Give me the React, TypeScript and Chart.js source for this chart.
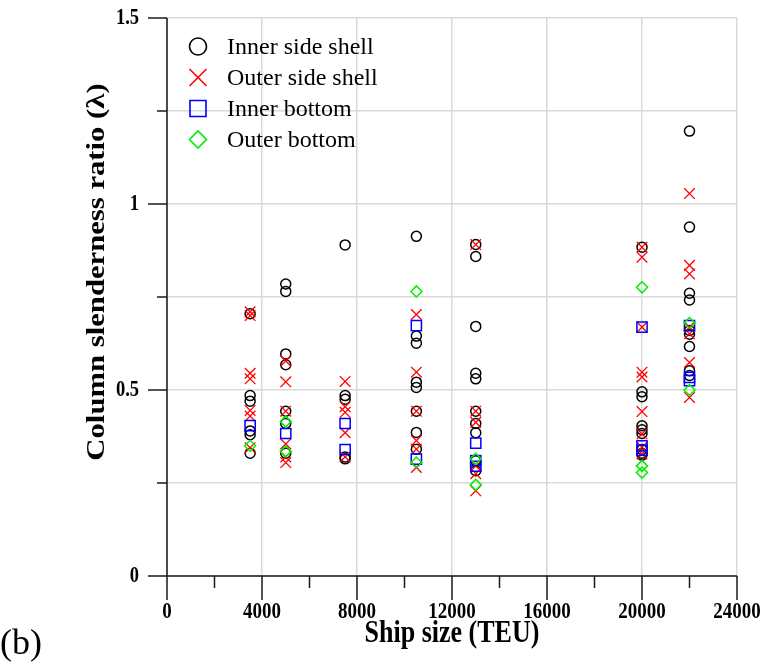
import React, { useEffect, useRef } from 'react';
import { Chart, registerables } from 'chart.js';

Chart.register(...registerables);

const SERIF = '"Liberation Serif", "Times New Roman", serif';

// [ship size (TEU), column slenderness ratio λ]
type Pt = [number, number];

const seriesNames = ['Inner side shell', 'Outer side shell', 'Inner bottom', 'Outer bottom'];

const xTickLabels = ['0', '4000', '8000', '12000', '16000', '20000', '24000'];
const yTickLabels = ['0', '0.5', '1', '1.5'];

const innerSideShell: Pt[] = [
  [3500, 0.705], [3500, 0.485], [3500, 0.47], [3500, 0.39], [3500, 0.38], [3500, 0.33],
  [5000, 0.785], [5000, 0.765], [5000, 0.597], [5000, 0.568], [5000, 0.443], [5000, 0.41], [5000, 0.33],
  [7500, 0.89], [7500, 0.485], [7500, 0.475], [7500, 0.32], [7500, 0.315],
  [10500, 0.913], [10500, 0.645], [10500, 0.626], [10500, 0.521], [10500, 0.507], [10500, 0.443], [10500, 0.386], [10500, 0.341],
  [13000, 0.891], [13000, 0.859], [13000, 0.671], [13000, 0.545], [13000, 0.53], [13000, 0.443], [13000, 0.41], [13000, 0.385], [13000, 0.31], [13000, 0.283],
  [20000, 0.884], [20000, 0.495], [20000, 0.482], [20000, 0.404], [20000, 0.393], [20000, 0.383], [20000, 0.34], [20000, 0.33], [20000, 0.325],
  [22000, 1.196], [22000, 0.938], [22000, 0.76], [22000, 0.742], [22000, 0.66], [22000, 0.65], [22000, 0.617], [22000, 0.552], [22000, 0.539],
];

const outerSideShell: Pt[] = [
  [3500, 0.71], [3500, 0.7], [3500, 0.545], [3500, 0.53], [3500, 0.445], [3500, 0.43], [3500, 0.345],
  [5000, 0.578], [5000, 0.522], [5000, 0.443], [5000, 0.355], [5000, 0.32], [5000, 0.305],
  [7500, 0.523], [7500, 0.455], [7500, 0.44], [7500, 0.385], [7500, 0.32],
  [10500, 0.703], [10500, 0.548], [10500, 0.443], [10500, 0.364], [10500, 0.341], [10500, 0.292],
  [13000, 0.891], [13000, 0.443], [13000, 0.413], [13000, 0.296], [13000, 0.275], [13000, 0.229],
  [20000, 0.884], [20000, 0.857], [20000, 0.669], [20000, 0.548], [20000, 0.535], [20000, 0.442], [20000, 0.382], [20000, 0.346], [20000, 0.328],
  [22000, 1.028], [22000, 0.835], [22000, 0.812], [22000, 0.669], [22000, 0.651], [22000, 0.574], [22000, 0.48],
];

const innerBottom: Pt[] = [
  [3500, 0.404],
  [5000, 0.383],
  [7500, 0.41], [7500, 0.34],
  [10500, 0.673], [10500, 0.314],
  [13000, 0.357], [13000, 0.31], [13000, 0.295],
  [20000, 0.669], [20000, 0.35], [20000, 0.338],
  [22000, 0.673], [22000, 0.534], [22000, 0.525],
];

const outerBottom: Pt[] = [
  [3500, 0.35],
  [5000, 0.415], [5000, 0.335],
  [10500, 0.765], [10500, 0.305],
  [13000, 0.315], [13000, 0.245],
  [20000, 0.776], [20000, 0.296], [20000, 0.278],
  [22000, 0.68], [22000, 0.5],
];

const toXY = (pts: Pt[]) => pts.map(([x, y]) => ({ x, y }));

const seriesStyles = [
  { color: '#000000', pointStyle: 'circle', radius: 5, width: 1.5, legendSize: 8.5, order: 4 },
  { color: '#ff0000', pointStyle: 'crossRot', radius: 7.5, width: 1.3, legendSize: 8.5, order: 3 },
  { color: '#0000ff', pointStyle: 'rect', radius: 7.2, width: 1.5, legendSize: 8, order: 2 },
  { color: '#00ee00', pointStyle: 'rectRot', radius: 5.5, width: 1.5, legendSize: 8.5, order: 1 },
];

// the axis lettering is set tall and narrow
const TEXT_STRETCH = 1.25;
const TITLE_STRETCH = 1.18;

function drawLegendMarker(ctx: CanvasRenderingContext2D, style: string, cx: number, cy: number, s: number) {
  ctx.beginPath();
  if (style === 'circle') {
    ctx.arc(cx, cy, s, 0, Math.PI * 2);
  } else if (style === 'crossRot') {
    ctx.moveTo(cx - s, cy - s); ctx.lineTo(cx + s, cy + s);
    ctx.moveTo(cx + s, cy - s); ctx.lineTo(cx - s, cy + s);
  } else if (style === 'rect') {
    ctx.rect(cx - s, cy - s, 2 * s, 2 * s);
  } else {
    ctx.moveTo(cx - s, cy); ctx.lineTo(cx, cy - s); ctx.lineTo(cx + s, cy); ctx.lineTo(cx, cy + s); ctx.closePath();
  }
  ctx.stroke();
}

function tallText(
  ctx: CanvasRenderingContext2D, text: string, x: number, y: number,
  align: CanvasTextAlign, rotate = false,
) {
  ctx.save();
  ctx.translate(x, y);
  if (rotate) {
    ctx.rotate(-Math.PI / 2);
    ctx.scale(TITLE_STRETCH, 1);
  } else {
    ctx.scale(1, TEXT_STRETCH);
  }
  ctx.textAlign = align;
  ctx.textBaseline = 'middle';
  ctx.fillText(text, 0, 0);
  ctx.restore();
}

// axis lines, tick marks, tick labels, axis titles, in-plot legend and panel tag
const framePlugin = {
  id: 'frame',
  afterDraw(chart: any) {
    const { ctx, chartArea: a, scales } = chart;
    const xs = scales.x;
    const ys = scales.y;
    ctx.save();
    ctx.strokeStyle = '#1a1a1a';
    ctx.lineWidth = 1.5;
    ctx.beginPath();
    ctx.moveTo(a.left, a.top); ctx.lineTo(a.left, a.bottom);
    ctx.moveTo(a.left, a.bottom); ctx.lineTo(a.right, a.bottom);
    ys.ticks.forEach((t: any, i: number) => {
      const py = ys.getPixelForTick(i);
      const major = Math.abs(t.value * 2 - Math.round(t.value * 2)) < 1e-9;
      ctx.moveTo(a.left - (major ? 19 : 10), py); ctx.lineTo(a.left, py);
    });
    xs.ticks.forEach((t: any, i: number) => {
      const px = xs.getPixelForTick(i);
      const major = t.value % 4000 === 0;
      ctx.moveTo(px, a.bottom); ctx.lineTo(px, a.bottom + (major ? 24 : 12));
    });
    ctx.stroke();

    ctx.fillStyle = '#000';
    ctx.font = `bold 19px ${SERIF}`;
    xTickLabels.forEach((lab) => {
      tallText(ctx, lab, xs.getPixelForValue(Number(lab)), a.bottom + 36, 'center');
    });
    ctx.font = `bold 18.5px ${SERIF}`;
    yTickLabels.forEach((lab) => {
      tallText(ctx, lab, a.left - 28, ys.getPixelForValue(Number(lab)), 'right');
    });

    ctx.font = `bold 26px ${SERIF}`;
    tallText(ctx, 'Ship size (TEU)', (a.left + a.right) / 2, a.bottom + 58, 'center');
    tallText(ctx, 'Column slenderness ratio (λ)', 97, 272, 'center', true);

    // legend inside the plot
    ctx.font = `24px ${SERIF}`;
    ctx.textBaseline = 'middle';
    ctx.textAlign = 'left';
    chart.data.datasets.forEach((ds: any, i: number) => {
      const st = seriesStyles[i];
      const cy = a.top + 28.5 + i * 31;
      ctx.strokeStyle = st.color;
      ctx.lineWidth = 1.6;
      drawLegendMarker(ctx, st.pointStyle, a.left + 31, cy, st.legendSize);
      ctx.fillStyle = '#000';
      ctx.fillText(ds.label, a.left + 60, cy + 1);
    });

    ctx.font = `36px ${SERIF}`;
    ctx.fillStyle = '#000';
    ctx.fillText('(b)', 0, 645);
    ctx.restore();
  },
};

export default function App() {
  const canvasRef = useRef<HTMLCanvasElement | null>(null);

  useEffect(() => {
    if (!canvasRef.current) return;
    const seriesData = [innerSideShell, outerSideShell, innerBottom, outerBottom];
    const chart = new Chart(canvasRef.current, {
      type: 'scatter',
      data: {
        datasets: seriesData.map((pts, i) => ({
          label: seriesNames[i],
          data: toXY(pts),
          pointStyle: seriesStyles[i].pointStyle as any,
          pointRadius: seriesStyles[i].radius,
          pointBorderWidth: seriesStyles[i].width,
          borderColor: seriesStyles[i].color,
          backgroundColor: 'rgba(0,0,0,0)',
          pointBackgroundColor: 'rgba(0,0,0,0)',
          pointBorderColor: seriesStyles[i].color,
          order: seriesStyles[i].order,
        })),
      },
      options: {
        responsive: true,
        maintainAspectRatio: false,
        animation: false,
        events: [],
        layout: { padding: { top: 18, right: 25, bottom: 0, left: 0 } },
        plugins: {
          legend: { display: false },
          tooltip: { enabled: false },
        },
        scales: {
          x: {
            type: 'linear',
            min: 0,
            max: 24000,
            border: { display: false },
            grid: {
              drawTicks: false,
              lineWidth: 1.5,
              color: (c: any) => (c.tick && c.tick.value % 4000 === 0 ? '#d9d9d9' : 'rgba(0,0,0,0)'),
            },
            ticks: { stepSize: 2000, autoSkip: false, display: false },
            afterFit: (s: any) => {
              s.height = 88;
              s.paddingLeft = 0;
              s.paddingRight = 0;
            },
          },
          y: {
            type: 'linear',
            min: 0,
            max: 1.5,
            border: { display: false },
            grid: { drawTicks: false, lineWidth: 1.5, color: '#d9d9d9' },
            ticks: { stepSize: 0.25, display: false },
            afterFit: (s: any) => {
              s.width = 167;
              s.paddingTop = 0;
              s.paddingBottom = 0;
            },
          },
        },
      },
      plugins: [framePlugin],
    });
    return () => chart.destroy();
  }, []);

  return (
    <div style={{ position: 'absolute', left: 0, top: 0, width: 762, height: 664, background: '#fff' }}>
      <canvas ref={canvasRef} />
    </div>
  );
}
